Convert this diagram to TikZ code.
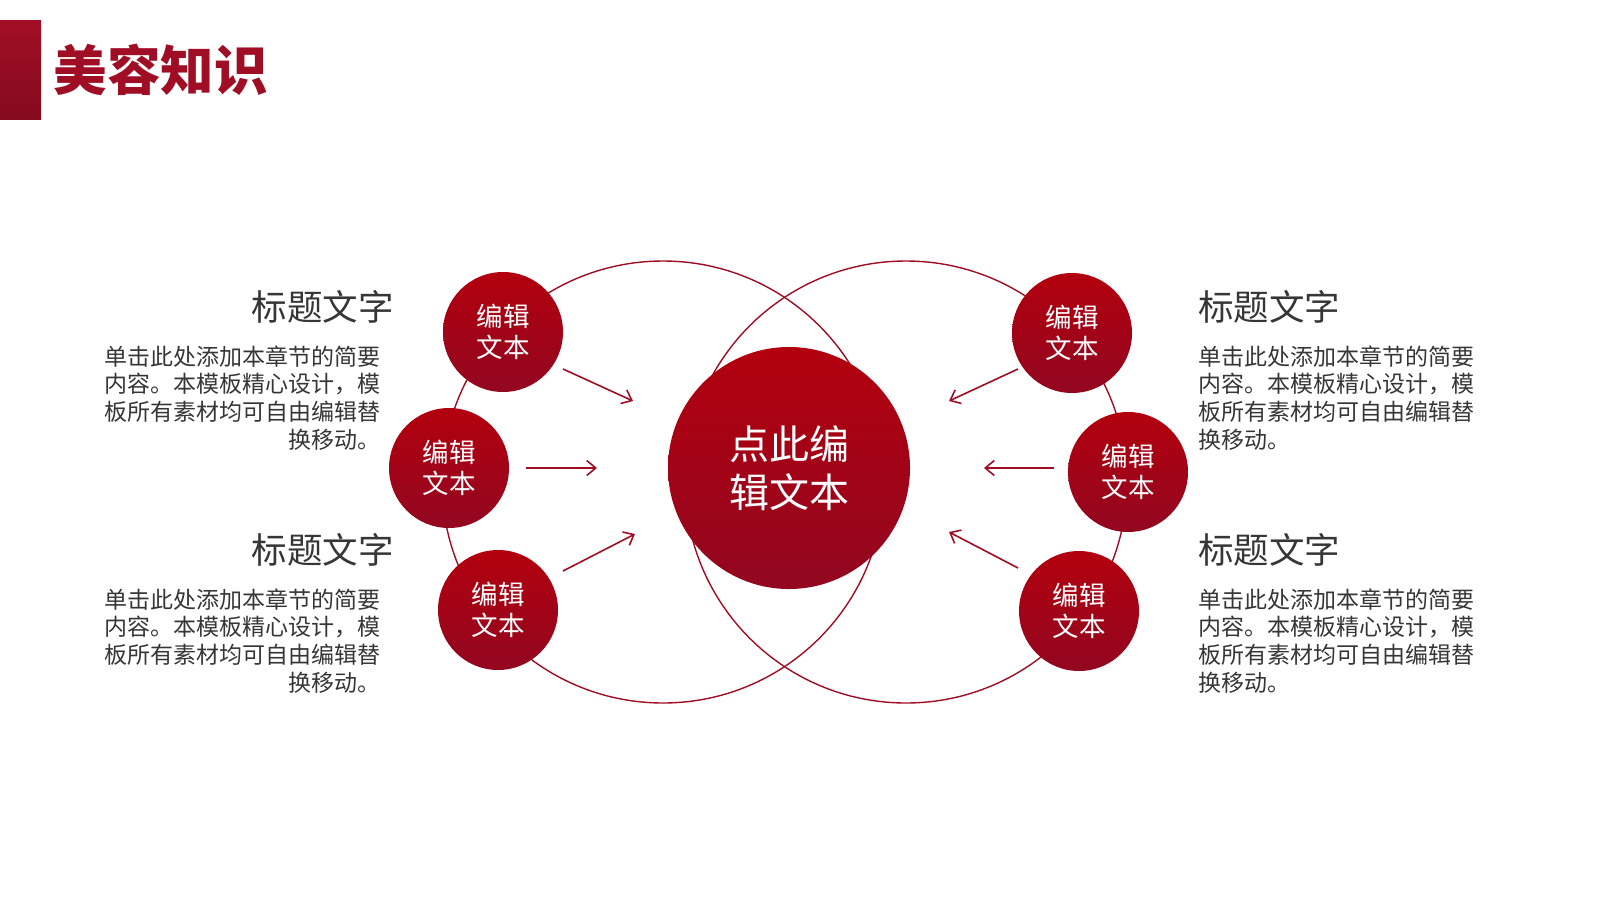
\documentclass[tikz,border=0pt]{standalone}
\usepackage{fontspec}
\setmainfont{Noto Sans CJK SC}
\usetikzlibrary{arrows.meta,positioning}
\definecolor{brandred}{HTML}{A00E26}
\definecolor{redtop}{HTML}{B2000E}
\definecolor{redbot}{HTML}{920720}
\definecolor{bartop}{HTML}{A10E25}
\definecolor{barbot}{HTML}{850A1D}
\definecolor{txtdark}{HTML}{363636}

\begin{document}
\begin{tikzpicture}[x=1pt, y=-1pt,
  ring/.style={circle, draw=brandred, line width=1.4pt, minimum size=442pt, inner sep=0pt},
  ball/.style={circle, top color=redtop, bottom color=redbot, minimum size=#1, inner sep=0pt, text=white, align=center},
  small/.style={ball=120pt, font=\fontsize{26.5}{31}\selectfont},
  head/.style={inner sep=0pt, text=txtdark, font=\fontsize{35.5}{40}\selectfont},
  body/.style={inner sep=0pt, text=txtdark, font=\fontsize{23}{27.8}\selectfont},
  arr/.style={-{Straight Barb[length=9pt, width=15pt, line width=1.6pt]}, line width=1.6pt, brandred}
]
  \useasboundingbox (0,0) rectangle (1600,900);
  % title bar
  \node[top color=bartop, bottom color=barbot, minimum width=41pt, minimum height=99pt, inner sep=0pt, anchor=north west] (bar) at (0,20) {};
  \node[right=12pt of bar, inner sep=0pt, text=brandred, font=\fontsize{53.5}{56}\selectfont\bfseries] (title) {美容知识};

  % two rings
  \node[ring] (ringL) at (663,482) {};
  \node[ring] (ringR) at (906,482) {};

  % centre and satellites
  \node[ball=242pt, font=\fontsize{40}{48}\selectfont] (mid) at (789,468) {点此编\\辑文本};
  \node[small] (tl) at (503,332) {编辑\\文本};
  \node[small] (ml) at (449,468) {编辑\\文本};
  \node[small] (bl) at (498,610) {编辑\\文本};
  \node[small] (tr) at (1072,333) {编辑\\文本};
  \node[small] (mr) at (1128,472) {编辑\\文本};
  \node[small] (br) at (1079,611) {编辑\\文本};

  % arrows
  \coordinate (tlA) at (563,369);  \coordinate (tlB) at (633,401);
  \coordinate (mlA) at (526,468);  \coordinate (mlB) at (597,468);
  \coordinate (blA) at (563,571);  \coordinate (blB) at (635,534);
  \coordinate (trA) at (1018,369); \coordinate (trB) at (949,401);
  \coordinate (mrA) at (1054,468); \coordinate (mrB) at (984,468);
  \coordinate (brA) at (1018,568); \coordinate (brB) at (949,532);
  \foreach \a in {tl,ml,bl,tr,mr,br}{\draw[arr] (\a A) -- (\a B);}

  % text blocks
  \node[head, anchor=east] (h1) at (394,307) {标题文字};
  \node[body, anchor=east, align=right] (t1) at (381,398) {单击此处添加本章节的简要\\内容。本模板精心设计，模\\板所有素材均可自由编辑替\\换移动。};
  \node[head, anchor=east] (h2) at (394,550) {标题文字};
  \node[body, anchor=east, align=right] (t2) at (381,641) {单击此处添加本章节的简要\\内容。本模板精心设计，模\\板所有素材均可自由编辑替\\换移动。};
  \node[head, anchor=west] (h3) at (1198,307) {标题文字};
  \node[body, anchor=west, align=left] (t3) at (1198,398) {单击此处添加本章节的简要\\内容。本模板精心设计，模\\板所有素材均可自由编辑替\\换移动。};
  \node[head, anchor=west] (h4) at (1198,550) {标题文字};
  \node[body, anchor=west, align=left] (t4) at (1198,641) {单击此处添加本章节的简要\\内容。本模板精心设计，模\\板所有素材均可自由编辑替\\换移动。};
\end{tikzpicture}
\end{document}
